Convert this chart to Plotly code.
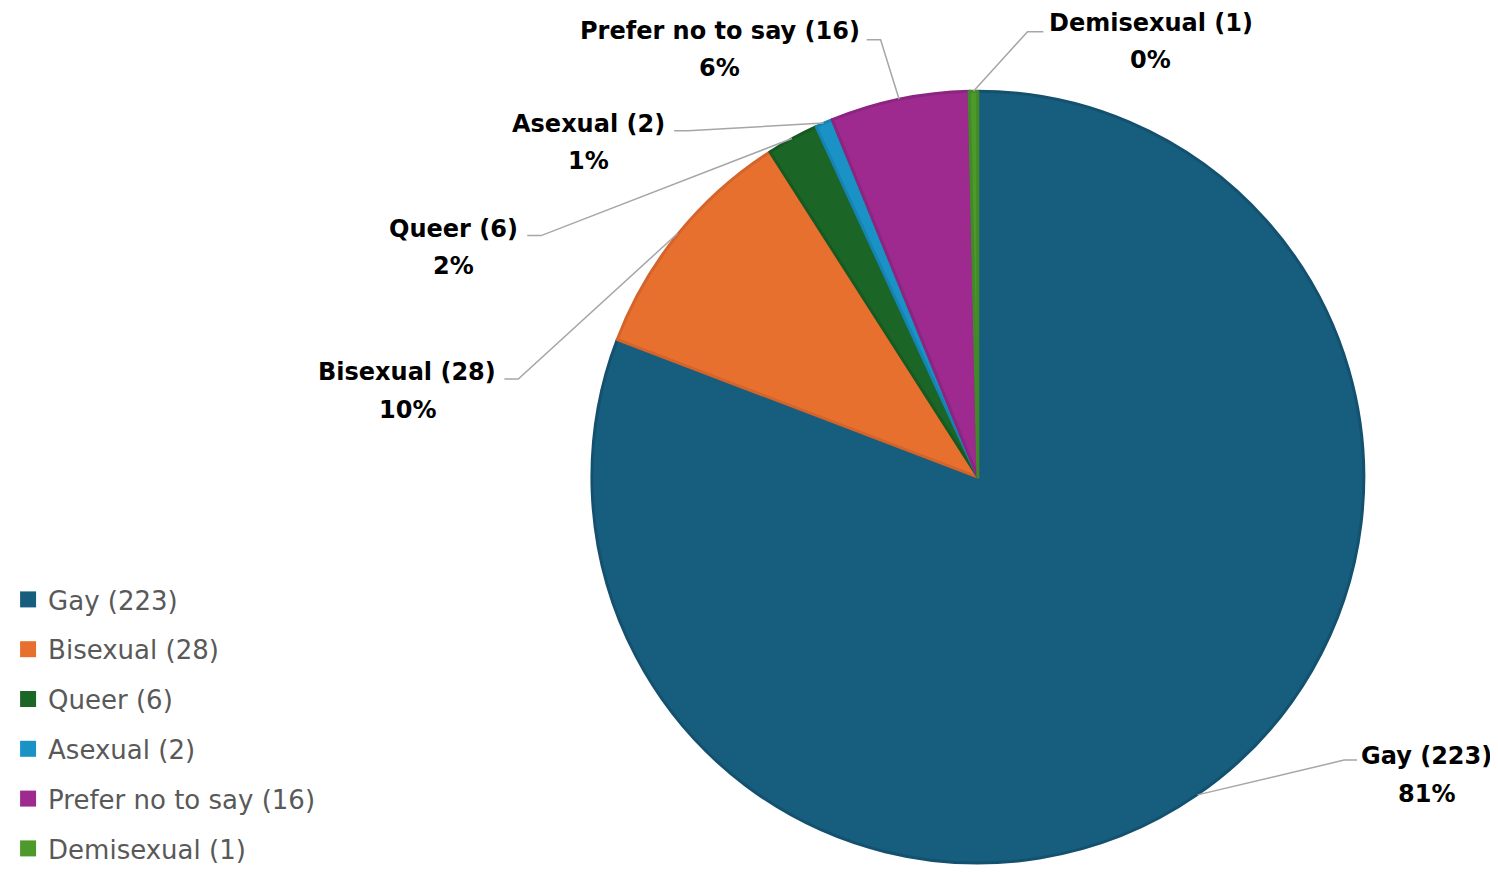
import math
import plotly.graph_objects as go

# ---- data ----
categories = ["Gay", "Bisexual", "Queer", "Asexual", "Prefer no to say", "Demisexual"]
counts = [223, 28, 6, 2, 16, 1]
fill_colors = ["#175E7E", "#E8702F", "#1B6626", "#1A92C6", "#9E2A8F", "#4C9A2A"]
edge_colors = ["#13516F", "#D3642B", "#175A21", "#1684B2", "#8C2580", "#43882A"]

# page offset of the plot div (body margin) and figure size
OX, OY = 8, 8
W, H = 1498 - OX, 872 - OY
CX, CY, R = 974, 482, 390  # pie centre / radius in page pixels (layout)

labels = [f"{c} ({n})" for c, n in zip(categories, counts)]
total = sum(counts)


def px(x):
    return (x - OX) / W


def py(y):
    return 1 - (y - OY) / H


fig = go.Figure()
fig.add_trace(go.Pie(
    labels=labels, values=counts, sort=False, direction="clockwise", rotation=0,
    marker=dict(colors=fill_colors, line=dict(color=edge_colors, width=3)),
    textinfo="none", hoverinfo="label+percent", showlegend=False,
    domain=dict(x=[px(CX - R), px(CX + R)], y=[py(CY + R), py(CY - R)]),
))

# legend via dummy traces (one group each so spacing can be set)
for lab, col in zip(labels, fill_colors):
    fig.add_trace(go.Scatter(
        x=[None], y=[None], mode="markers", name=lab, legendgroup=lab,
        marker=dict(symbol="square", size=16, color=col),
    ))

# label positions (layout): text centre x, first-line centre y, elbow start x, elbow y, elbow end x
label_layout = {
    "Gay": (1426, 764, 1356, 768, 1343),
    "Bisexual": (399, 376, 497, 383, 511),
    "Queer": (446, 231, 520, 238, 534),
    "Asexual": (582, 125, 668, 132, 682),
    "Prefer no to say": (714, 31, 862, 40, 876),
    "Demisexual": (1148, 23, 1040, 32, 1024),
}
LINE_GAP = 38
label_font = dict(family="DejaVu Sans", size=24, color="#000000", weight="bold")

annotations = []
shapes = []
cum = 0
for cat, n, lab in zip(categories, counts, labels):
    mid = (cum + n / 2) / total * 2 * math.pi
    cum += n
    ex = CX + R * math.sin(mid)
    ey = CY - R * math.cos(mid)
    tx, ty, lx, ly, kx = label_layout[cat]
    pct = round(n / total * 100)
    for i, line in enumerate([lab, f"{pct}%"]):
        annotations.append(dict(
            x=px(tx), y=py(ty + i * LINE_GAP), xref="paper", yref="paper", showarrow=False,
            xanchor="center", yanchor="middle", borderpad=0,
            text=line, align="center", font=label_font,
        ))
    shapes.append(dict(
        type="path", xref="paper", yref="paper",
        path=f"M {px(lx)},{py(ly)} L {px(kx)},{py(ly)} L {px(ex)},{py(ey)}",
        line=dict(color="#A6A6A6", width=1.5),
    ))

fig.update_layout(
    width=W, height=H,
    margin=dict(l=0, r=0, t=0, b=0),
    paper_bgcolor="white", plot_bgcolor="white",
    xaxis=dict(visible=False), yaxis=dict(visible=False),
    annotations=annotations, shapes=shapes,
    legend=dict(
        x=px(-3), y=py(582), xanchor="left", yanchor="top",
        font=dict(family="DejaVu Sans", size=26, color="#595959"),
        tracegroupgap=13, itemsizing="trace", bgcolor="rgba(0,0,0,0)",
    ),
    showlegend=True,
)

fig.write_html("out.html")
